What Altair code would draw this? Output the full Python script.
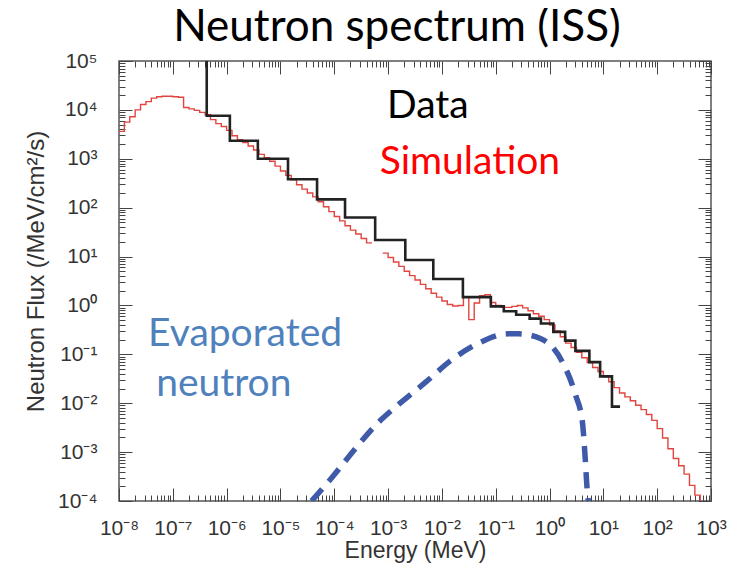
import json
import altair as alt
import pandas as pd

# ---------------- values ----------------
# Simulation (red): fine histogram, 10 bins per decade starting at 1e-8 MeV.
# Each value is log10 of the flux in that bin; None = gap in the drawn line.
sim_first_log_edge = -8.0
sim_log_bin_width = 0.1
sim_log_flux = [
    3.56, 3.75, 3.86, 4.00, 4.11, 4.17, 4.24, 4.27, 4.28, 4.28,
    4.27, 4.26, 4.05, 4.02, 3.99, 3.95, 3.90, 3.80, 3.72, 3.66,
    3.58, 3.47, 3.39, 3.33, 3.26, 3.18, 3.09, 3.02, 2.95, 2.85,
    2.75, 2.66, 2.57, 2.47, 2.38, 2.30, 2.22, 2.12, 2.02, 1.92,
    1.82, 1.73, 1.63, 1.54, 1.46, 1.37, 1.28, None, None, 1.07,
    0.98, 0.89, 0.80, 0.70, 0.61, 0.52, 0.43, 0.34, 0.25, 0.17,
    0.09, 0.02, -0.01, 0.00, 0.17, -0.29, 0.05, 0.20, 0.22, 0.06,
    0.00, -0.04, -0.04, -0.02, 0.00, -0.05, -0.11, -0.17, -0.22, -0.29,
    -0.40, -0.52, -0.64, -0.77, -0.86, -0.96, -1.07, -1.17, -1.27, -1.35,
    -1.46, -1.56, -1.68, -1.79, -1.87, -1.95, -2.04, -2.13, -2.23, -2.35,
    -2.52, -2.71, -2.93, -3.13, -3.28, -3.45, -3.68, -3.88, -4.30,
]

# Data (black): coarse histogram, log10 bin edges (MeV) and log10 flux per bin
data_log_edges = [-6.37, -5.94, -5.42, -4.86, -4.32, -3.80, -3.24, -2.68, -2.16, -1.61,
                  -1.09, -0.85, -0.62, -0.37, -0.16, 0.07, 0.29, 0.48, 0.74, 0.94, 1.16, 1.31]
data_log_flux = [3.88, 3.37, 3.00, 2.58, 2.17, 1.80, 1.34, 0.93, 0.54, 0.17,
                 -0.02, -0.12, -0.19, -0.27, -0.37, -0.54, -0.72, -0.93, -1.16, -1.45, -2.07]
data_entry_log_flux = 5.0   # the data line enters from the top of the frame

# Evaporated neutron component (blue dashed)
evap_log_energy = [-4.42, -4.02, -3.58, -3.15, -2.80, -2.28, -1.85, -1.35, -0.77, -0.58,
                   -0.16, 0.23, 0.48, 0.61, 0.66, 0.70, 0.72]
evap_log_flux = [-4.00, -3.49, -2.89, -2.36, -2.02, -1.55, -1.14, -0.79, -0.58, -0.58,
                 -0.68, -1.14, -1.82, -2.38, -3.08, -3.78, -4.00]

# Tick labels
x_first_decade = -8
x_last_decade = 3
y_first_decade = -4
y_last_decade = 5
x_tick_labels = ["10⁻⁸", "10⁻⁷", "10⁻⁶", "10⁻⁵", "10⁻⁴", "10⁻³",
                 "10⁻²", "10⁻¹", "10⁰", "10¹", "10²", "10³"]
y_tick_labels = ["10⁻⁴", "10⁻³", "10⁻²", "10⁻¹", "10⁰",
                 "10¹", "10²", "10³", "10⁴", "10⁵"]

# Annotations (anchor in data coordinates: log10 energy, log10 flux)
ann_data_text, ann_data_loge, ann_data_logf = ["Data"], [-2.26], [3.84]
ann_sim_text, ann_sim_loge, ann_sim_logf = ["Simulation"], [-1.48], [2.69]
ann_evap_text = ["Evaporated", "neutron"]
ann_evap_loge = [-7.46, -7.31]
ann_evap_logf = [-0.83, -1.86]

# ---------------- tables ----------------
sim_rows = []
seg = 0
for i, v in enumerate(sim_log_flux):
    if v is None:
        seg += 1
        continue
    lo = sim_first_log_edge + i * sim_log_bin_width
    hi = lo + sim_log_bin_width
    sim_rows.append({"energy": 10 ** lo, "flux": 10 ** v, "seg": seg, "order": 2 * i})
    sim_rows.append({"energy": 10 ** hi, "flux": 10 ** v, "seg": seg, "order": 2 * i + 1})
sim_df = pd.DataFrame(sim_rows)

data_rows = [{"energy": 10 ** data_log_edges[0], "flux": 10 ** data_entry_log_flux, "order": 0}]
for i, v in enumerate(data_log_flux):
    data_rows.append({"energy": 10 ** data_log_edges[i], "flux": 10 ** v, "order": 2 * i + 1})
    data_rows.append({"energy": 10 ** data_log_edges[i + 1], "flux": 10 ** v, "order": 2 * i + 2})
data_df = pd.DataFrame(data_rows)

evap_df = pd.DataFrame({"energy": [10 ** e for e in evap_log_energy],
                        "flux": [10 ** f for f in evap_log_flux]})


def ann_df(texts, loge, logf):
    return pd.DataFrame({"text": texts, "energy": [10 ** e for e in loge],
                         "flux": [10 ** f for f in logf]})


# ---------------- scales & axes ----------------
x_scale = alt.Scale(type="log", domain=[10.0 ** x_first_decade, 10.0 ** x_last_decade], nice=False)
y_scale = alt.Scale(type="log", domain=[10.0 ** y_first_decade, 10.0 ** y_last_decade], nice=False)

x_ticks = [k * 10.0 ** n for n in range(x_first_decade, x_last_decade) for k in range(1, 10)] + [10.0 ** x_last_decade]
y_ticks = [k * 10.0 ** n for n in range(y_first_decade, y_last_decade) for k in range(1, 10)] + [10.0 ** y_last_decade]

MAJOR = "abs(log(datum.value)/LN10 - round(log(datum.value)/LN10)) < 0.001"
TICK_LEN = 13
tick_dash = {"condition": {"test": MAJOR, "value": [TICK_LEN, 0]}, "value": [0, 7, 6, 0]}

LABEL_FONT = "Liberation Sans"
ANN_FONT = "Lato"


def label_expr(labels, first):
    return f"({MAJOR}) ? {json.dumps(labels, ensure_ascii=False)}[round(log(datum.value)/LN10) - ({first})] : ''"


common = dict(domain=False, offset=-TICK_LEN, tickSize=TICK_LEN, tickColor="#444", tickWidth=1,
              tickDash=tick_dash, grid=False)

x_bottom = alt.Axis(orient="bottom", values=x_ticks, labelExpr=label_expr(x_tick_labels, x_first_decade),
                    labelFont=LABEL_FONT, labelFontSize=21, labelColor="#333", labelPadding=16,
                    labelFlush=False, labelOverlap=False, title="Energy (MeV)", titleFont=LABEL_FONT,
                    titleFontSize=23, titleFontWeight="normal", titleColor="#333", titlePadding=1,
                    **common)
y_left = alt.Axis(orient="left", values=y_ticks, labelExpr=label_expr(y_tick_labels, y_first_decade),
                  labelFont=LABEL_FONT, labelFontSize=21, labelColor="#333", labelPadding=22,
                  labelFlush=False, labelOverlap=False, title="Neutron Flux (/MeV/cm²/s)",
                  titleFont=LABEL_FONT, titleFontSize=24, titleFontWeight="normal", titleColor="#333",
                  titlePadding=9, titleY=210, **common)
x_top = alt.Axis(orient="top", values=x_ticks, labels=False, title=None, **common)
y_right = alt.Axis(orient="right", values=y_ticks, labels=False, title=None, **common)

# ---------------- layers ----------------
evap = alt.Chart(evap_df).mark_line(color="#3f5aa8", strokeWidth=5.5, strokeDash=[16, 10],
                                    interpolate="monotone", clip=True).encode(
    x=alt.X("energy:Q", scale=x_scale, axis=None),
    y=alt.Y("flux:Q", scale=y_scale, axis=None),
)

sim = alt.Chart(sim_df).mark_line(color="#e2443f", strokeWidth=1.4, clip=True).encode(
    x=alt.X("energy:Q", scale=x_scale, axis=x_bottom),
    y=alt.Y("flux:Q", scale=y_scale, axis=y_left),
    detail="seg:N",
    order="order:Q",
)

data = alt.Chart(data_df).mark_line(color="#222222", strokeWidth=2.6, clip=True).encode(
    x=alt.X("energy:Q", scale=x_scale, axis=x_top),
    y=alt.Y("flux:Q", scale=y_scale, axis=y_right),
    order="order:Q",
)


def text_layer(df, color, align):
    return alt.Chart(df).mark_text(font=ANN_FONT, fontSize=39, color=color, align=align,
                                   baseline="alphabetic").encode(
        x=alt.X("energy:Q", scale=x_scale, axis=None),
        y=alt.Y("flux:Q", scale=y_scale, axis=None),
        text="text:N",
    )


t_data = text_layer(ann_df(ann_data_text, ann_data_loge, ann_data_logf), "black", "center")
t_sim = text_layer(ann_df(ann_sim_text, ann_sim_loge, ann_sim_logf), "#ff0000", "center")
t_evap = text_layer(ann_df(ann_evap_text, ann_evap_loge, ann_evap_logf), "#4f81bd", "left")

chart = alt.layer(sim, data, evap, t_data, t_sim, t_evap).resolve_axis(
    x="independent", y="independent"
).properties(
    width=592,
    height=440,
    autosize=alt.AutoSizeParams(type="none"),
    padding={"left": 111, "top": 53, "right": 19, "bottom": 75},
    title=alt.TitleParams("Neutron spectrum (ISS)", font=ANN_FONT, fontSize=44, fontWeight="normal",
                          color="black", anchor="middle", frame="group", offset=2, dx=-18, dy=2),
    background="white",
).configure_view(stroke="#555555", strokeWidth=1.5)

chart.save("out.html", embed_options={"renderer": "svg", "actions": False})
